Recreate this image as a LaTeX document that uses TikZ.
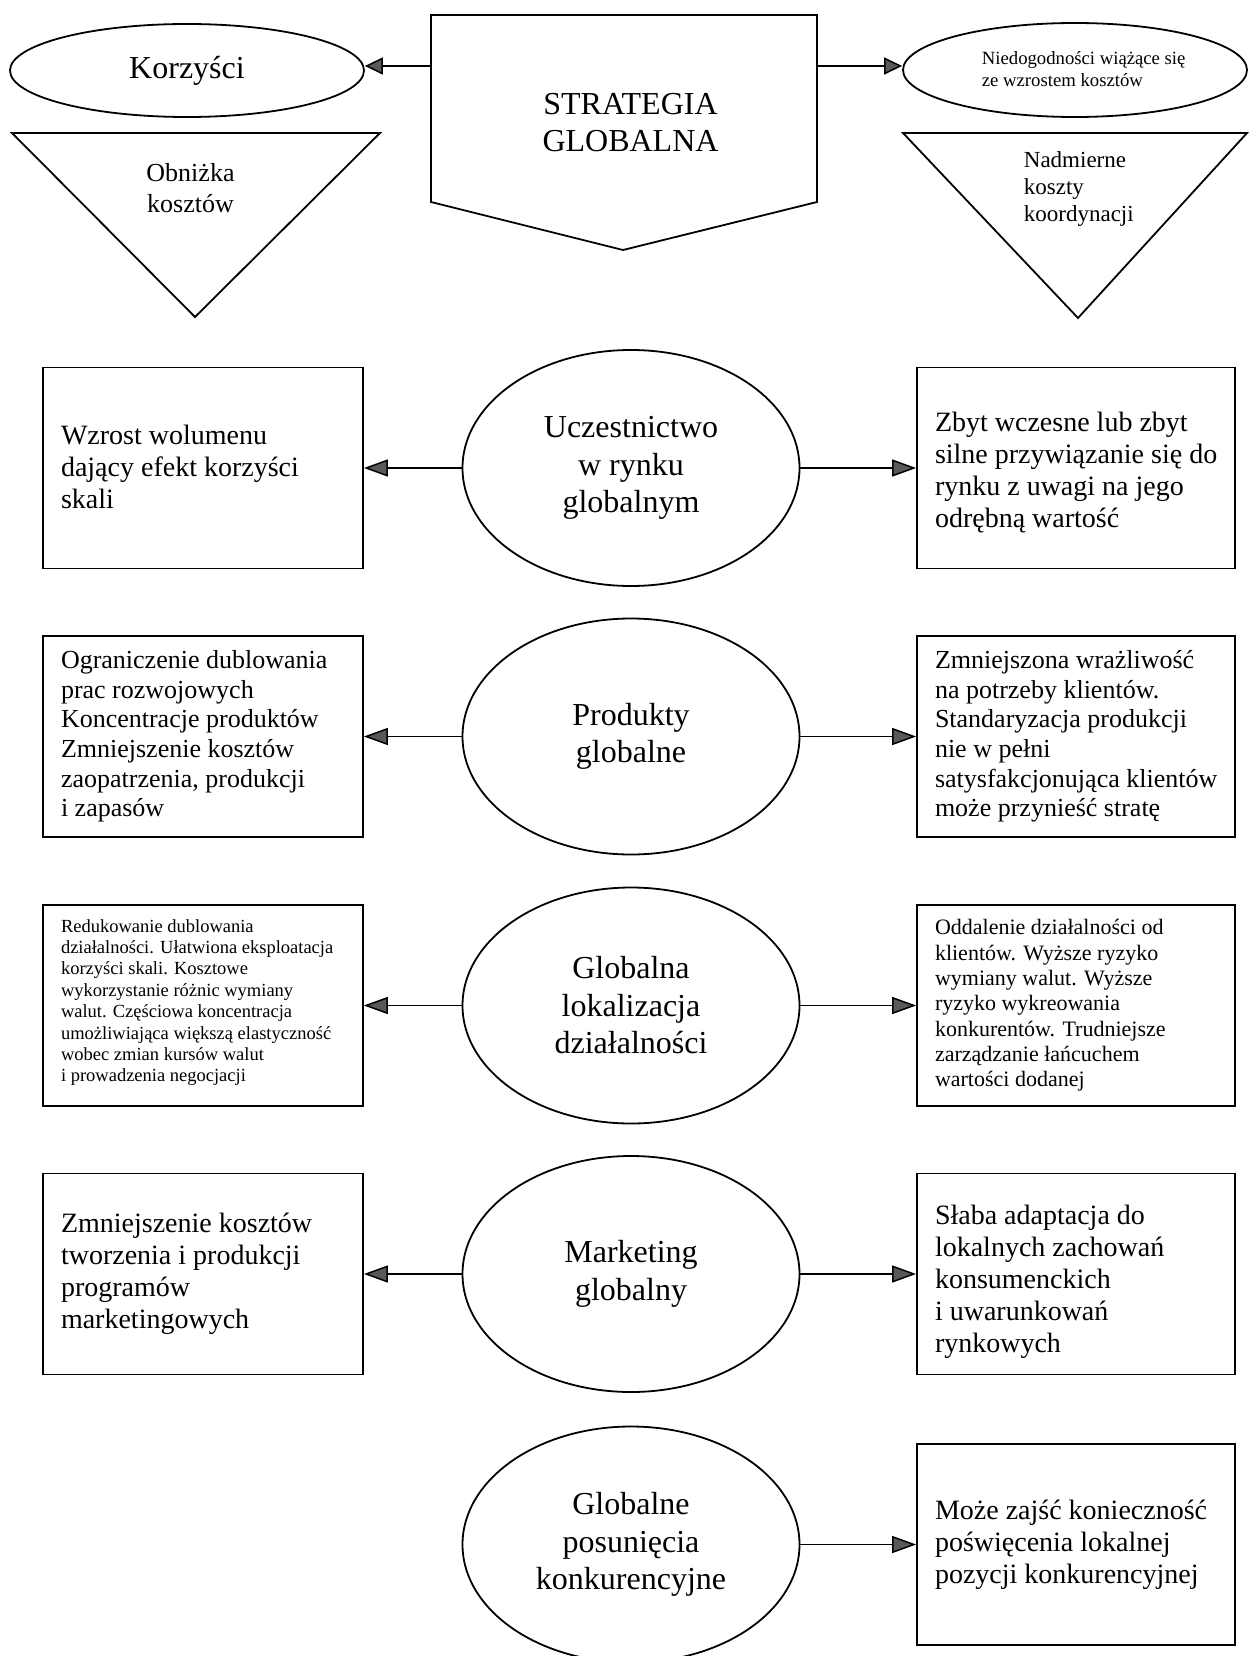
\documentclass[tikz,border=0pt]{standalone}
\usepackage{fontspec}
\setmainfont{Liberation Serif}
\usetikzlibrary{arrows.meta,shapes.geometric,calc}
\newcommand{\fsz}[2]{\fontsize{#1}{#2}\selectfont}

\tikzset{
  box/.style={draw, rectangle, minimum width=320pt, minimum height=201pt, inner sep=0pt},
  rbox/.style={box, minimum width=318pt},
  oval/.style={draw, ellipse, minimum width=337pt, minimum height=236pt, inner sep=0pt,
               align=center, font=\fsz{32}{37.5}},
  txt/.style={anchor=west, align=left, inner sep=0pt},
  big/.style={font=\fsz{28}{32}},
  mid/.style={font=\fsz{26}{29.6}},
  arr/.style={-{Triangle[length=24pt,width=17pt,fill=black!65]}, line width=1.5pt},
  arrtop/.style={-{Triangle[length=18pt,width=17pt,fill=black!65]}, line width=1.5pt},
}

\begin{document}
\begin{tikzpicture}[x=1pt, y=-1pt, line width=1.8pt]
\useasboundingbox (0,0) rectangle (1248,1656);

% ---- top: strategy, benefits and drawbacks ----
\draw (431,15) -- (817,15) -- (817,202) -- (623,250) -- (431,202) -- cycle;
\coordinate (sgL) at (431,66);
\coordinate (sgR) at (817,66);
\node[align=center, inner sep=0pt, font=\fsz{32}{37.5}] (sg) at (630.5,122.5) {STRATEGIA\\GLOBALNA};

\node[draw, ellipse, minimum width=354pt, minimum height=93pt, inner sep=0pt,
      font=\fsz{32}{38}] (kor) at (187,70.5) {Korzyści};
\node[draw, ellipse, minimum width=344pt, minimum height=94pt, inner sep=0pt] (nd) at (1075,70) {};
\node[txt, font=\fsz{18.7}{22}] (ndt) at (981,69.5) {Niedogodności wiążące się\\ze wzrostem kosztów};

\draw[arrtop] (sgL) -- (sgL -| kor.east);
\draw[arrtop] (sgR) -- (sgR -| nd.west);

\draw (12,133) -- (380,133) -- (195,317) -- cycle;
\draw (903,133) -- (1247,133) -- (1078,318) -- cycle;
\node[align=center, inner sep=0pt, font=\fsz{26}{31}] (obn) at (190.5,188.5) {Obniżka\\kosztów};
\node[txt, font=\fsz{23}{27}] (nad) at (1023,189.5) {Nadmierne\\koszty\\koordynacji};

% ---- row 1 ----
\node[oval] (e1) at (631,468) {Uczestnictwo\\w rynku\\globalnym};
\node[box] (l1) at (203,468) {};
\node[rbox] (r1) at (1076,468) {};
\node[txt, big] (l1t) at ([xshift=18pt, yshift=1pt]l1.west) {Wzrost wolumenu\\dający efekt korzyści\\skali};
\node[txt, big] (r1t) at ([xshift=18pt, yshift=-5pt]r1.west) {Zbyt wczesne lub zbyt\\silne przywiązanie się do\\rynku z uwagi na jego\\odrębną wartość};
\draw[arr] (e1.west) -- (e1.west -| l1.east);
\draw[arr] (e1.east) -- (e1.east -| r1.west);

% ---- row 2 ----
\node[oval] (e2) at (631,736.5) {Produkty\\globalne};
\node[box] (l2) at (203,736.5) {};
\node[rbox] (r2) at (1076,736.5) {};
\node[txt, mid] (l2t) at ([xshift=18pt]l2.west) {Ograniczenie dublowania\\prac rozwojowych\\Koncentracje produktów\\Zmniejszenie kosztów\\zaopatrzenia, produkcji\\i zapasów};
\node[txt, mid] (r2t) at ([xshift=18pt]r2.west) {Zmniejszona wrażliwość\\na potrzeby klientów.\\Standaryzacja produkcji\\nie w pełni\\satysfakcjonująca klientów\\może przynieść stratę};
\draw[arr] (e2.west) -- (e2.west -| l2.east);
\draw[arr] (e2.east) -- (e2.east -| r2.west);

% ---- row 3 ----
\node[oval] (e3) at (631,1005.5) {Globalna\\lokalizacja\\działalności};
\node[box] (l3) at (203,1005.5) {};
\node[rbox] (r3) at (1076,1005.5) {};
\node[txt, font=\fsz{18.5}{21.4}] (l3t) at ([xshift=18pt, yshift=3pt]l3.west) {Redukowanie dublowania\\działalności. Ułatwiona eksploatacja\\korzyści skali. Kosztowe\\wykorzystanie różnic wymiany\\walut. Częściowa koncentracja\\umożliwiająca większą elastyczność\\wobec zmian kursów walut\\i prowadzenia negocjacji};
\node[txt, font=\fsz{22}{25.3}] (r3t) at ([xshift=18pt]r3.west) {Oddalenie działalności od\\klientów. Wyższe ryzyko\\wymiany walut. Wyższe\\ryzyko wykreowania\\konkurentów. Trudniejsze\\zarządzanie łańcuchem\\wartości dodanej};
\draw[arr] (e3.west) -- (e3.west -| l3.east);
\draw[arr] (e3.east) -- (e3.east -| r3.west);

% ---- row 4 ----
\node[oval] (e4) at (631,1274) {Marketing\\globalny};
\node[box] (l4) at (203,1274) {};
\node[rbox] (r4) at (1076,1274) {};
\node[txt, big] (l4t) at ([xshift=18pt]l4.west) {Zmniejszenie kosztów\\tworzenia i produkcji\\programów\\marketingowych};
\node[txt, big] (r4t) at ([xshift=18pt, yshift=-7.5pt]r4.west) {Słaba adaptacja do\\lokalnych zachowań\\konsumenckich\\i uwarunkowań\\rynkowych};
\draw[arr] (e4.west) -- (e4.west -| l4.east);
\draw[arr] (e4.east) -- (e4.east -| r4.west);

% ---- row 5 ----
\node[oval] (e5) at (631,1544.5) {Globalne\\posunięcia\\konkurencyjne};
\node[rbox] (r5) at (1076,1544.5) {};
\node[txt, big] (r5t) at ([xshift=18pt]r5.west) {Może zajść konieczność\\poświęcenia lokalnej\\pozycji konkurencyjnej};
\draw[arr] (e5.east) -- (e5.east -| r5.west);
\end{tikzpicture}
\end{document}
